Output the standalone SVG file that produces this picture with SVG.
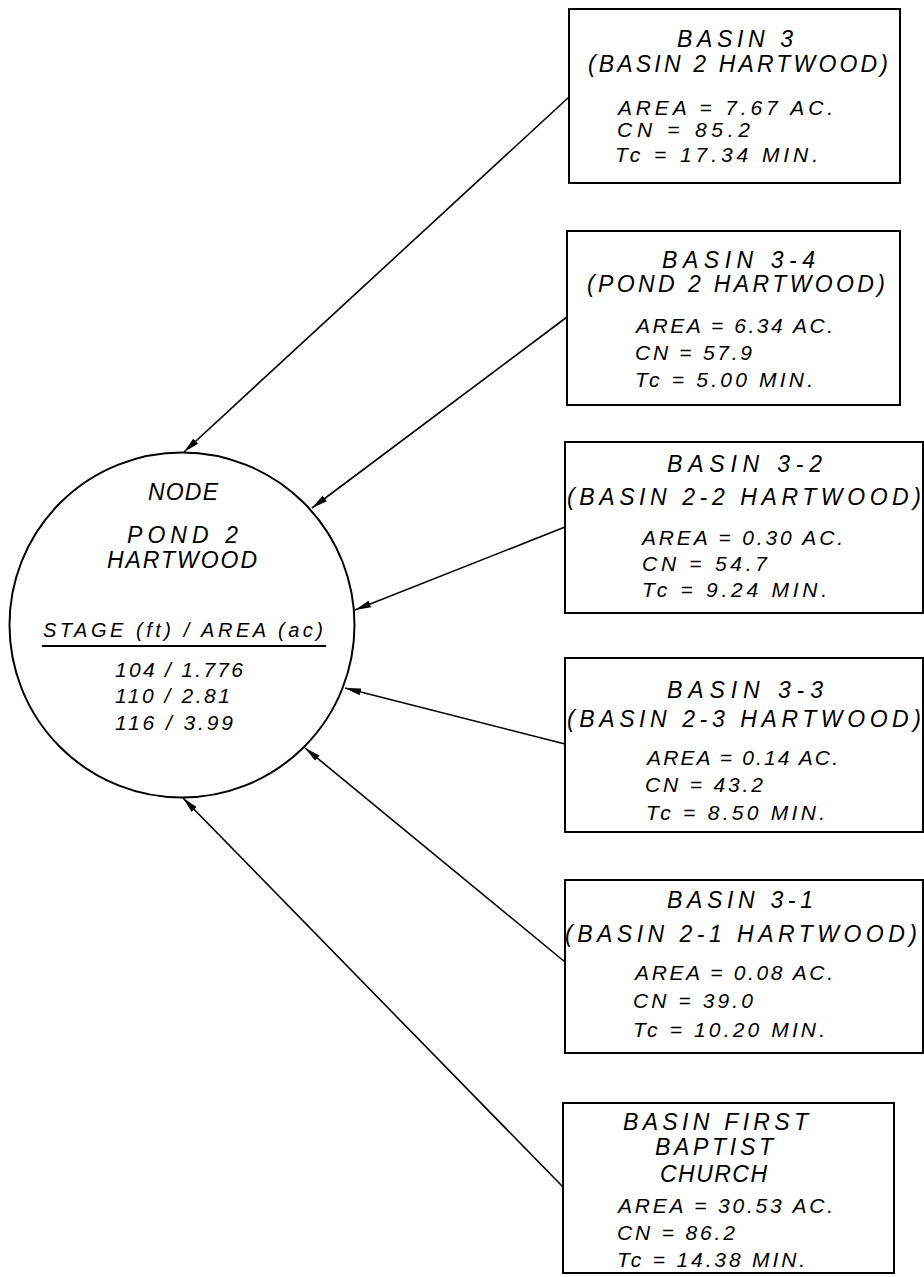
<svg xmlns="http://www.w3.org/2000/svg" width="924" height="1277" viewBox="0 0 924 1277">
<style>
  text { font-family: "Liberation Sans", Arial, sans-serif; font-style: italic; fill: #000; }
  .t { font-size: 23px; }
  .d { font-size: 21px; }
  .c { font-size: 20px; }
  .box { fill: #fff; stroke: #000; stroke-width: 2; }
  .conn { stroke: #000; stroke-width: 1.6; fill: none; marker-end: url(#ah); }
</style>
<defs>
  <marker id="ah" markerUnits="userSpaceOnUse" markerWidth="16" markerHeight="10" viewBox="0 0 16 10" refX="16" refY="5" orient="auto">
    <path d="M0,1.5 L16,5 L0,8.5 Z" fill="#000"/>
  </marker>
</defs>
<rect width="924" height="1277" fill="#fff"/>

<g id="connectors">
  <line class="conn" x1="569" y1="97" x2="184" y2="452"/>
  <line class="conn" x1="567" y1="317" x2="312" y2="508"/>
  <line class="conn" x1="565" y1="527" x2="355" y2="610"/>
  <line class="conn" x1="565" y1="744" x2="345" y2="688"/>
  <line class="conn" x1="565" y1="962" x2="305" y2="748"/>
  <line class="conn" x1="563" y1="1187" x2="183" y2="798"/>
</g>

<g id="node-pond2">
  <circle cx="182" cy="625" r="172.5" fill="none" stroke="#000" stroke-width="2"/>
  <text class="t" x="148" y="500" textLength="70" lengthAdjust="spacing">NODE</text>
  <text class="t" x="127" y="543" textLength="111" lengthAdjust="spacing">POND 2</text>
  <text class="t" x="107" y="568" textLength="150" lengthAdjust="spacing">HARTWOOD</text>
  <text class="c" x="43" y="637" textLength="280" lengthAdjust="spacing">STAGE (ft) / AREA (ac)</text>
  <line x1="42" y1="646" x2="326" y2="646" stroke="#000" stroke-width="2"/>
  <text class="d" x="115" y="677" textLength="128" lengthAdjust="spacing">104 / 1.776</text>
  <text class="d" x="115" y="703" textLength="115" lengthAdjust="spacing">110 / 2.81</text>
  <text class="d" x="115" y="730" textLength="118" lengthAdjust="spacing">116 / 3.99</text>
</g>

<g id="basin-3">
  <rect class="box" x="569" y="9" width="331" height="174"/>
  <text class="t" x="677" y="47" textLength="116" lengthAdjust="spacing">BASIN 3</text>
  <text class="t" x="588" y="72" textLength="300" lengthAdjust="spacing">(BASIN 2 HARTWOOD)</text>
  <text class="d" x="618" y="115" textLength="215" lengthAdjust="spacing">AREA = 7.67 AC.</text>
  <text class="d" x="617" y="137" textLength="133" lengthAdjust="spacing">CN = 85.2</text>
  <text class="d" x="615" y="162" textLength="203" lengthAdjust="spacing">Tc = 17.34 MIN.</text>
</g>

<g id="basin-3-4">
  <rect class="box" x="567" y="231" width="333" height="174"/>
  <text class="t" x="662" y="268" textLength="153" lengthAdjust="spacing">BASIN 3-4</text>
  <text class="t" x="587" y="292" textLength="298" lengthAdjust="spacing">(POND 2 HARTWOOD)</text>
  <text class="d" x="636" y="333" textLength="197" lengthAdjust="spacing">AREA = 6.34 AC.</text>
  <text class="d" x="635" y="360" textLength="117" lengthAdjust="spacing">CN = 57.9</text>
  <text class="d" x="635" y="387" textLength="178" lengthAdjust="spacing">Tc = 5.00 MIN.</text>
</g>

<g id="basin-3-2">
  <rect class="box" x="565" y="442" width="358" height="171"/>
  <text class="t" x="667" y="472" textLength="155" lengthAdjust="spacing">BASIN 3-2</text>
  <text class="t" x="567" y="505" textLength="354" lengthAdjust="spacing">(BASIN 2-2 HARTWOOD)</text>
  <text class="d" x="642" y="545" textLength="201" lengthAdjust="spacing">AREA = 0.30 AC.</text>
  <text class="d" x="642" y="571" textLength="125" lengthAdjust="spacing">CN = 54.7</text>
  <text class="d" x="642" y="597" textLength="185" lengthAdjust="spacing">Tc = 9.24 MIN.</text>
</g>

<g id="basin-3-3">
  <rect class="box" x="565" y="658" width="358" height="174"/>
  <text class="t" x="667" y="698" textLength="156" lengthAdjust="spacing">BASIN 3-3</text>
  <text class="t" x="567" y="727" textLength="354" lengthAdjust="spacing">(BASIN 2-3 HARTWOOD)</text>
  <text class="d" x="647" y="765" textLength="191" lengthAdjust="spacing">AREA = 0.14 AC.</text>
  <text class="d" x="645" y="792" textLength="118" lengthAdjust="spacing">CN = 43.2</text>
  <text class="d" x="646" y="820" textLength="179" lengthAdjust="spacing">Tc = 8.50 MIN.</text>
</g>

<g id="basin-3-1">
  <rect class="box" x="565" y="880" width="358" height="173"/>
  <text class="t" x="667" y="908" textLength="146" lengthAdjust="spacing">BASIN 3-1</text>
  <text class="t" x="565" y="942" textLength="352" lengthAdjust="spacing">(BASIN 2-1 HARTWOOD)</text>
  <text class="d" x="635" y="980" textLength="198" lengthAdjust="spacing">AREA = 0.08 AC.</text>
  <text class="d" x="633" y="1008" textLength="120" lengthAdjust="spacing">CN = 39.0</text>
  <text class="d" x="633" y="1037" textLength="192" lengthAdjust="spacing">Tc = 10.20 MIN.</text>
</g>

<g id="basin-first-baptist-church">
  <rect class="box" x="563" y="1103" width="331" height="170"/>
  <text class="t" x="623" y="1130" textLength="185" lengthAdjust="spacing">BASIN FIRST</text>
  <text class="t" x="655" y="1155" textLength="118" lengthAdjust="spacing">BAPTIST</text>
  <text class="t" x="660" y="1182" textLength="107" lengthAdjust="spacing">CHURCH</text>
  <text class="d" x="618" y="1213" textLength="215" lengthAdjust="spacing">AREA = 30.53 AC.</text>
  <text class="d" x="617" y="1240" textLength="118" lengthAdjust="spacing">CN = 86.2</text>
  <text class="d" x="617" y="1267" textLength="188" lengthAdjust="spacing">Tc = 14.38 MIN.</text>
</g>
</svg>
